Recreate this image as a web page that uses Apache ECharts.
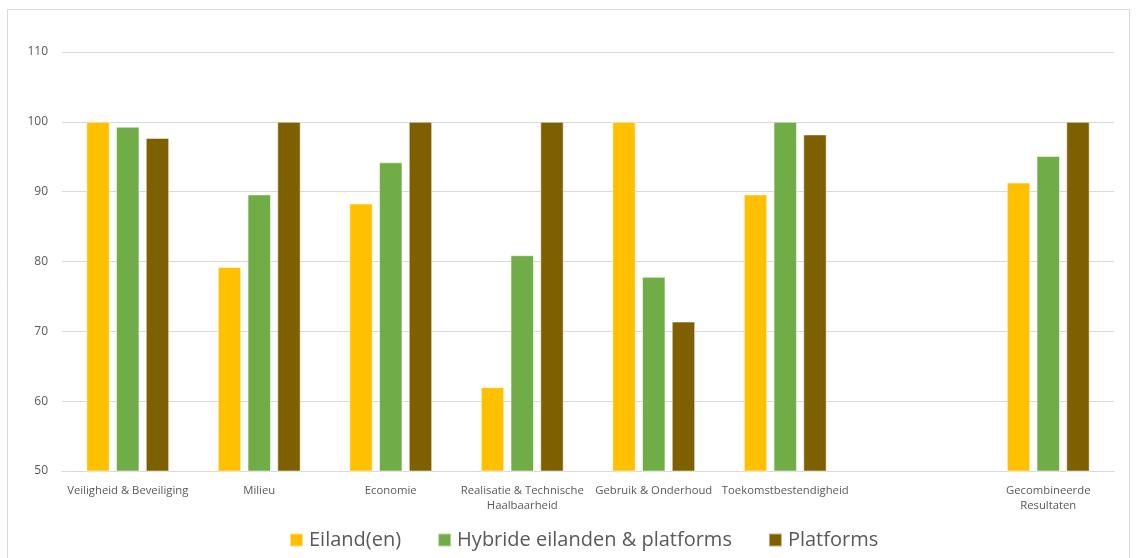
<!DOCTYPE html>
<html>
<head>
<meta charset="utf-8">
<script src="https://cdn.jsdelivr.net/npm/echarts@6/dist/echarts.min.js"></script>
<style>
html,body{margin:0;padding:0;background:#fff;}
#chart{width:1137px;height:558px;}
</style>
</head>
<body>
<div id="chart"></div>
<script>
const categories = ['Veiligheid & Beveiliging', 'Milieu', 'Economie', 'Realisatie & Technische\nHaalbaarheid', 'Gebruik & Onderhoud', 'Toekomstbestendigheid', '', 'Gecombineerde\nResultaten'];
const seriesNames = ['Eiland(en)', 'Hybride eilanden & platforms', 'Platforms'];
const eiland = [100, 79.2, 88.3, 62.0, 100, 89.6, null, 91.3];
const hybride = [99.3, 89.6, 94.2, 80.9, 77.8, 100, null, 95.1];
const platforms = [97.7, 100, 100, 100, 71.4, 98.2, null, 100];
const colors = ['#FFC000', '#70AD47', '#7F6000'];

const chart = echarts.init(document.getElementById('chart'), null, {renderer: 'canvas'});
const font = 'Open Sans, Noto Sans, sans-serif';
const mk = (name, data, color) => ({
  name: name, type: 'bar', data: data,
  barGap: '27%', barCategoryGap: '37%',
  itemStyle: {color: color, borderColor: 'rgba(255,255,255,0.5)', borderWidth: 1},
  emphasis: {disabled: true}
});
chart.setOption({
  animation: false,
  backgroundColor: '#fff',
  graphic: [{
    type: 'rect', shape: {x: 7.5, y: 9.5, width: 1122, height: 560},
    style: {fill: 'none', stroke: '#d9d9d9', lineWidth: 1}, silent: true, z: -1
  }],
  grid: {left: 62, right: 23, top: 52, bottom: 87, containLabel: false},
  legend: {
    top: 530, left: 289, padding: 0, itemWidth: 13, itemHeight: 13, itemGap: 36,
    icon: 'rect',
    textStyle: {fontFamily: font, fontSize: 20, color: '#595959', padding: [0, 0, 0, 1]},
    data: seriesNames
  },
  xAxis: {
    type: 'category', data: categories,
    axisLine: {lineStyle: {color: '#d9d9d9', width: 1}},
    axisTick: {show: false},
    axisLabel: {interval: 0, fontFamily: font, fontSize: 11.3, color: '#595959', margin: 12, lineHeight: 15}
  },
  yAxis: {
    type: 'value', min: 50, max: 110, interval: 10,
    axisLine: {show: false}, axisTick: {show: false},
    splitLine: {lineStyle: {color: '#d9d9d9', width: 1}},
    axisLabel: {fontFamily: font, fontSize: 12, color: '#595959', margin: 14}
  },
  series: [mk(seriesNames[0], eiland, colors[0]), mk(seriesNames[1], hybride, colors[1]), mk(seriesNames[2], platforms, colors[2])]
});
</script>
</body>
</html>
